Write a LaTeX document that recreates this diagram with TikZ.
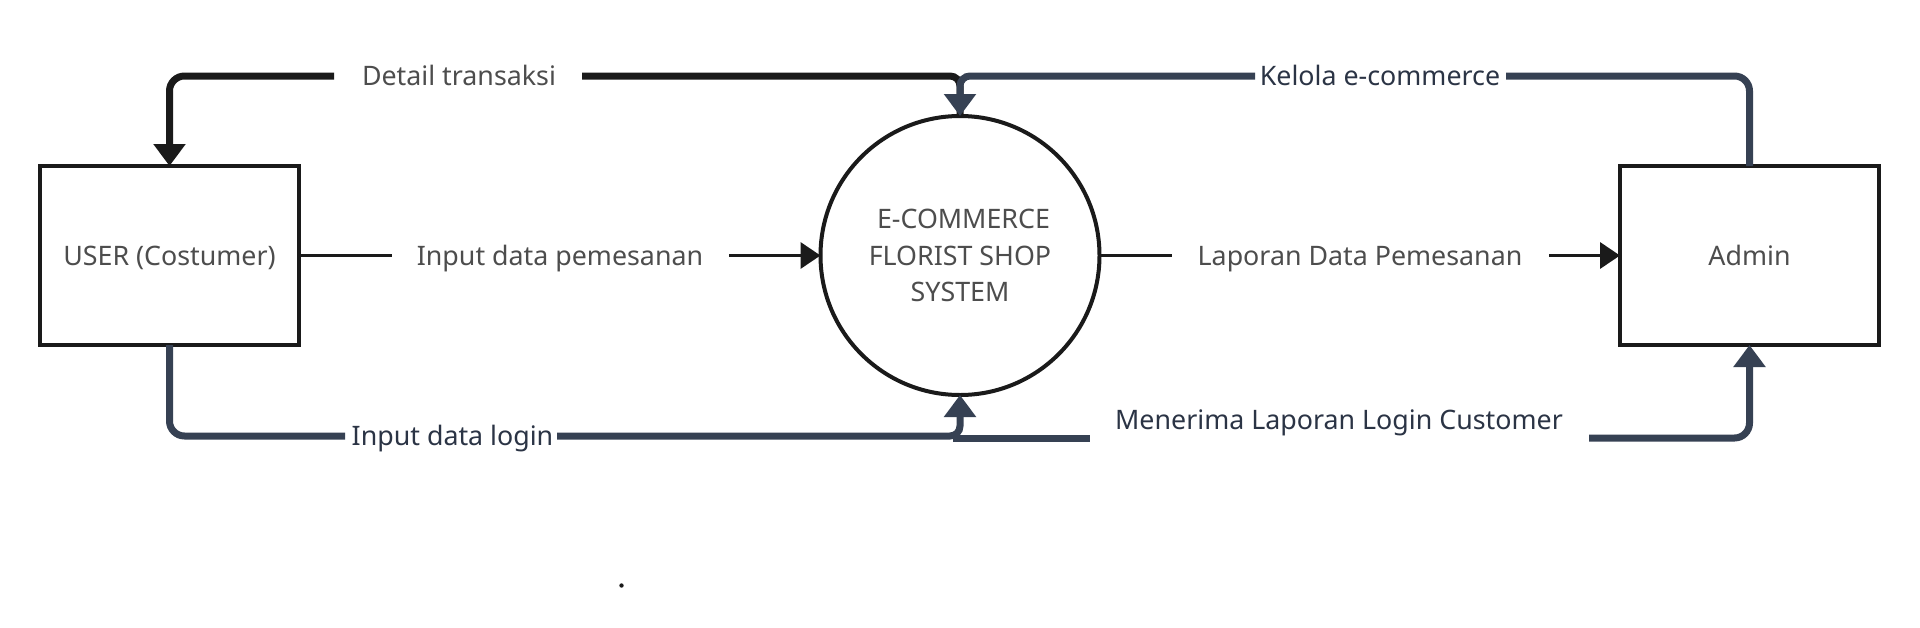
\documentclass[tikz,border=0pt]{standalone}
\usepackage{fontspec}
\setmainfont{Noto Sans}
\usetikzlibrary{arrows.meta}
\definecolor{ink}{HTML}{1A1A1A}
\definecolor{slate}{HTML}{364153}
\definecolor{txtgrey}{HTML}{4D4D4D}
\definecolor{txtslate}{HTML}{2B3445}
\newcommand\dfdfont{\fontsize{26.8}{36.2}\selectfont}
\begin{document}
\begin{tikzpicture}[x=1pt,y=-1pt,
  capbox/.style={text height=19.1pt, text depth=0pt},
  box/.style={draw=ink, line width=4pt, minimum width=259pt, minimum height=179pt, inner sep=0pt, outer sep=0pt, text=txtgrey, font=\dfdfont, capbox},
  proc/.style={circle, draw=ink, line width=4pt, minimum size=279pt, inner sep=0pt, outer sep=0pt, text=txtgrey, align=center, font=\dfdfont, text height=91.5pt, text depth=0pt},
  fatink/.style={line width=7pt, draw=ink},
  fatslate/.style={line width=7pt, draw=slate},
  thinink/.style={line width=3.5pt, draw=ink},
  tipbig/.style={-{Triangle[length=22pt,width=31pt]}},
  tipsmall/.style={-{Triangle[length=20pt,width=26pt]}},
  lab/.style={font=\dfdfont, inner sep=0pt, text=txtgrey, capbox},
  slab/.style={font=\dfdfont, inner sep=0pt, text=txtslate, capbox}
]
\useasboundingbox (0,0) rectangle (1920,627);
\fill[white] (0,0) rectangle (1920,627);

% nodes
\node[box] (user) at (169.5,255.5) {USER (Costumer)};
\node[box] (admin) at (1749.5,255.5) {Admin};
\node[proc] (sys) at (960,255.5) {\hspace*{0.26em}E-COMMERCE\\FLORIST SHOP\\SYSTEM};

% gap coordinates
\coordinate (dtL) at (334,76);
\coordinate (dtR) at (582,76);
\coordinate (klL) at (1255,76);
\coordinate (klR) at (1506,76);
\coordinate (ipL) at (392,255.5);
\coordinate (ipR) at (729,255.5);
\coordinate (lpL) at (1172,255.5);
\coordinate (lpR) at (1549,255.5);
\coordinate (ilL) at (345,436);
\coordinate (ilR) at (557,436);
\coordinate (mnS) at (953,438);
\coordinate (mnL) at (1090,438);
\coordinate (mnR) at (1589,438);

% Detail transaksi
\draw[fatink, rounded corners=10pt] (sys.north) |- (dtR);
\draw[fatink, rounded corners=15pt, tipbig] (dtL) -| (user.north);
\node[lab] (ldt) at (459,76) {Detail transaksi};

% Kelola e-commerce
\draw[fatslate, rounded corners=15pt] (admin.north) |- (klR);
\draw[fatslate, rounded corners=10pt, tipbig] (klL) -| (sys.north);
\node[slab] (lkl) at (1380,76) {Kelola e-commerce};

% Input data pemesanan
\draw[thinink] (user.east) -- (ipL);
\draw[thinink, tipsmall] (ipR) -- (sys.west);
\node[lab] (lip) at (560,255.5) {Input data pemesanan};

% Laporan Data Pemesanan
\draw[thinink] (sys.east) -- (lpL);
\draw[thinink, tipsmall] (lpR) -- (admin.west);
\node[lab] (llp) at (1360,255.5) {Laporan Data Pemesanan};

% Menerima Laporan Login Customer
\draw[fatslate] (mnS) -- (mnL);
\draw[fatslate, rounded corners=15pt, tipbig] (mnR) -| (admin.south);
\node[slab] (lmn) at (1339,420) {Menerima Laporan Login Customer};

% Input data login
\draw[fatslate, rounded corners=15pt] (user.south) |- (ilL);
\draw[fatslate, rounded corners=10pt, tipbig] (ilR) -| (sys.south);
\node[slab] (lil) at (452.5,436) {Input data login};

% stray dot
\fill[ink] (621.5,585.5) circle (2.2pt);
\end{tikzpicture}
\end{document}
